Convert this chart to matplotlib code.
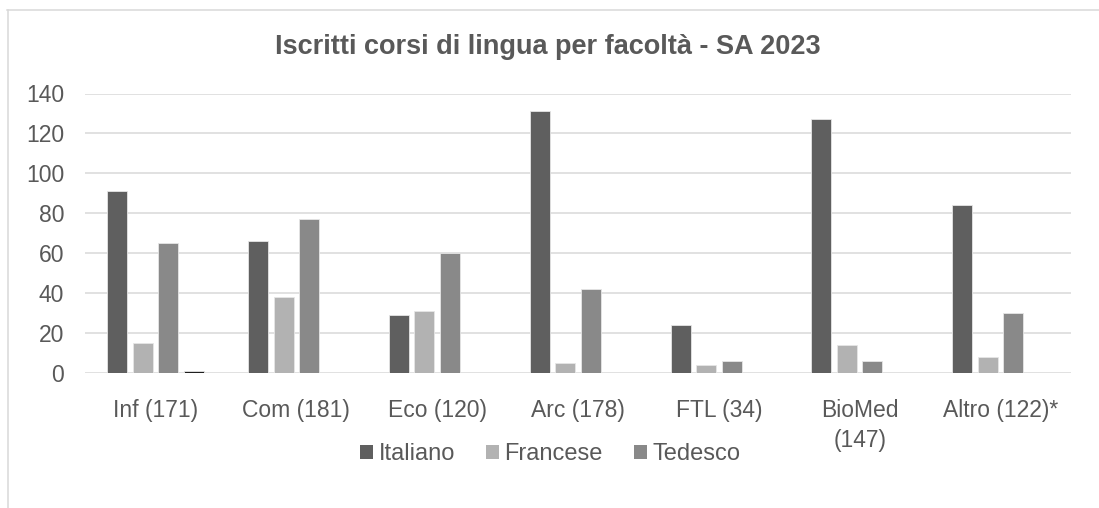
import matplotlib
matplotlib.use("Agg")
import matplotlib.pyplot as plt
from matplotlib.lines import Line2D
import numpy as np

categories = ["Inf (171)", "Com (181)", "Eco (120)", "Arc (178)", "FTL (34)", "BioMed\n(147)", "Altro (122)*"]
italiano = [91, 66, 29, 131, 24, 127, 84]
francese = [15, 38, 31, 5, 4, 14, 8]
tedesco = [65, 77, 60, 42, 6, 6, 30]
altra = [1, 0, 0, 0, 0, 0, 0]
series_names = ["Italiano", "Francese", "Tedesco", None]
yticks = [0, 20, 40, 60, 80, 100, 120, 140]
title = "Iscritti corsi di lingua per facoltà - SA 2023"

plt.rcParams['font.family'] = ['Liberation Sans', 'DejaVu Sans']
txt = '#595959'

fig = plt.figure(figsize=(10.99, 5.08), dpi=100)
ax = fig.add_axes([85/1099, 1-373/508, (1071-85)/1099, (373-93.5)/508])

x = np.arange(len(categories))
colors = ['#5f5f5f', '#b2b2b2', '#898989', '#1f1f1f']
data = [italiano, francese, tedesco, altra]
step = 0.181
width = 0.142
for i, (vals, c, name) in enumerate(zip(data, colors, series_names)):
    ax.bar(x + (i - 1.5) * step, vals, width=width, color=c,
           edgecolor='#e6e6e6', linewidth=0.6, zorder=3,
           label=name if name else '_nolegend_')

ax.set_xlim(-0.5, len(categories) - 0.5)
ax.set_ylim(0, 140)
ax.set_yticks(yticks)
ax.set_xticks(x)
ax.set_xticklabels(categories, fontsize=16.5, color=txt, linespacing=1.35)
ax.tick_params(axis='y', labelsize=16.5, labelcolor=txt, length=0, pad=15)
ax.tick_params(axis='x', length=0, pad=19)
ax.grid(axis='y', color='#d9d9d9', linewidth=1.1, zorder=0)
for s in ax.spines.values():
    s.set_visible(False)

fig.text(548/1099, 1-47/508, title, ha='center', va='center',
         fontsize=19.5, fontweight='bold', color=txt)

leg = fig.legend(loc='center', bbox_to_anchor=(550/1099, 1-454/508), ncol=3,
                 frameon=False, fontsize=17, handlelength=0.55, handleheight=0.55,
                 handletextpad=0.25, columnspacing=1.3, labelcolor=txt)
for h in leg.legend_handles:
    h.set_edgecolor('none')

fig.add_artist(Line2D([7/1099, 1.0], [1-9.5/508, 1-9.5/508], color='#d9d9d9', linewidth=1.1))
fig.add_artist(Line2D([7.5/1099, 7.5/1099], [0, 1-9.5/508], color='#d9d9d9', linewidth=1.1))

fig.savefig("out.png", dpi=100)
